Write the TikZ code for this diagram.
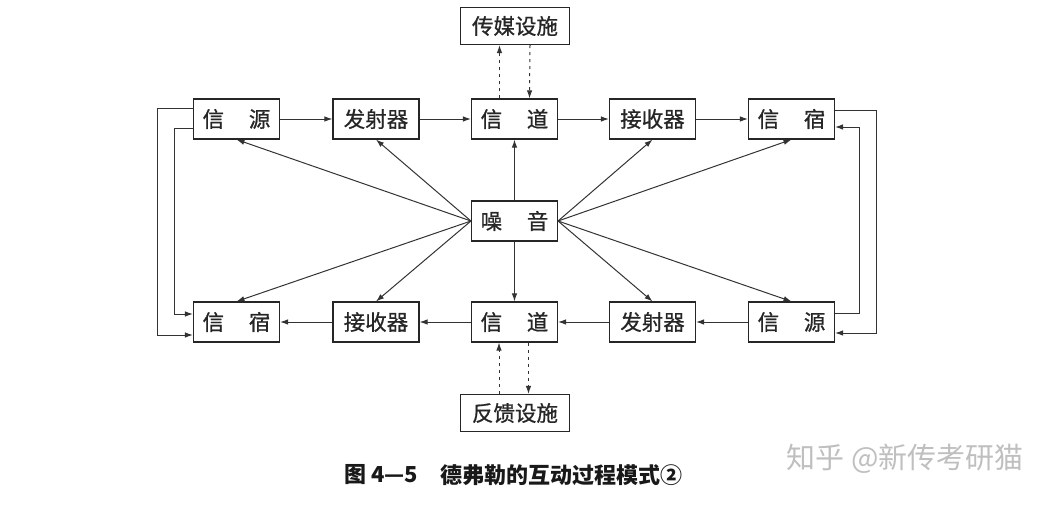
\documentclass[tikz,border=0pt]{standalone}
\usepackage{fontspec}
\newfontfamily\cjk{Noto Sans CJK SC}
\newfontfamily\cjkbox[FakeBold=0.8]{Noto Sans CJK SC}
\usetikzlibrary{arrows.meta}

\begin{document}
\begin{tikzpicture}[x=1pt, y=-1pt,
  box/.style  = {draw=black!85, line width=1.1pt, minimum width=86pt,
                 minimum height=40pt, inner sep=0pt, text=black!85,
                 font=\cjkbox\fontsize{21.5}{21.5}\selectfont},
  wide/.style = {box, minimum width=109pt, minimum height=37pt},
  arr/.style  = {-{Latex[length=8pt,width=5.5pt]}, line width=1pt, draw=black!80},
  dasharr/.style = {arr, dash pattern=on 3pt off 4pt},
  caption/.style = {inner sep=0pt, text=black!90,
                    font=\cjk\bfseries\fontsize{22}{22}\selectfont}
]
  \useasboundingbox (0,0) rectangle (1059,506);

  % Upper row
  \node[box] (srcA)  at (236.5, 119) {信\hspace{1.15em}源};
  \node[box] (txA)   at (376, 119)   {发射器};
  \node[box] (chA)   at (514.5, 119) {信\hspace{1.15em}道};
  \node[box] (rxA)   at (652.5, 119) {接收器};
  \node[box] (snkA)  at (791.5, 119) {信\hspace{1.15em}宿};

  % Lower row
  \node[box] (snkB)  at (236.5, 322) {信\hspace{1.15em}宿};
  \node[box] (rxB)   at (376, 322)   {接收器};
  \node[box] (chB)   at (514.5, 322) {信\hspace{1.15em}道};
  \node[box] (txB)   at (652.5, 322) {发射器};
  \node[box] (srcB)  at (791.5, 322) {信\hspace{1.15em}源};

  % Noise and facilities
  \node[box]  (noise)  at (514.5, 221) {噪\hspace{1.15em}音};
  \node[wide] (media)  at (515, 26)    {传媒设施};
  \node[wide] (feed)   at (515, 413)   {反馈设施};

  % Upper chain
  \draw[arr] (srcA.east) -- (txA.west);
  \draw[arr] (txA.east)  -- (chA.west);
  \draw[arr] (chA.east)  -- (rxA.west);
  \draw[arr] (rxA.east)  -- (snkA.west);

  % Lower chain
  \draw[arr] (srcB.west) -- (txB.east);
  \draw[arr] (txB.west)  -- (chB.east);
  \draw[arr] (chB.west)  -- (rxB.east);
  \draw[arr] (rxB.west)  -- (snkB.east);

  % Noise into every box
  \draw[arr] (noise.west)  -- (srcA.south);
  \draw[arr] (noise.west)  -- (txA.south);
  \draw[arr] (noise.west)  -- (snkB.north);
  \draw[arr] (noise.west)  -- (rxB.north);
  \draw[arr] (noise.north) -- (chA.south);
  \draw[arr] (noise.south) -- (chB.north);
  \draw[arr] (noise.east)  -- (rxA.south);
  \draw[arr] (noise.east)  -- (snkA.south);
  \draw[arr] (noise.east)  -- (txB.north);
  \draw[arr] (noise.east)  -- (srcB.north);

  % Side loops
  \draw[arr] ([yshift=11pt]srcA.west) -- ++(-35,0) |- ([yshift=-13pt]snkB.west);
  \draw[arr] ([yshift=-9pt]srcA.west) -- ++(-18,0) |- ([yshift=8pt]snkB.west);
  \draw[arr] ([yshift=9pt]snkA.east)  -- ++(41,0)  |- ([yshift=-11pt]srcB.east);
  \draw[arr] ([yshift=9pt]srcB.east)  -- ++(24,0)  |- ([yshift=-8pt]snkA.east);

  % Facilities (dashed)
  \draw[dasharr] ([xshift=-15pt]chA.north) -- ([xshift=-15pt]chA.north |- media.south);
  \draw[dasharr] ([xshift=15pt]media.south |- media.south) -- ([xshift=15pt]chA.north);
  \draw[dasharr] ([xshift=-16pt]feed.north) -- ([xshift=-16pt]feed.north |- chB.south);
  \draw[dasharr] ([xshift=14pt]chB.south) -- ([xshift=14pt]chB.south |- feed.north);

  % Caption
  \node[caption] (figno) at (381, 475) {图 4—5};
  \node[caption, anchor=west] (title) at (440, 475) {德弗勒的互动过程模式②};
  \node[text=black!25, inner sep=0pt, font=\cjk\fontsize{29}{29}\selectfont]
    (mark) at (905, 459) {知乎 @新传考研猫};
\end{tikzpicture}
\end{document}
